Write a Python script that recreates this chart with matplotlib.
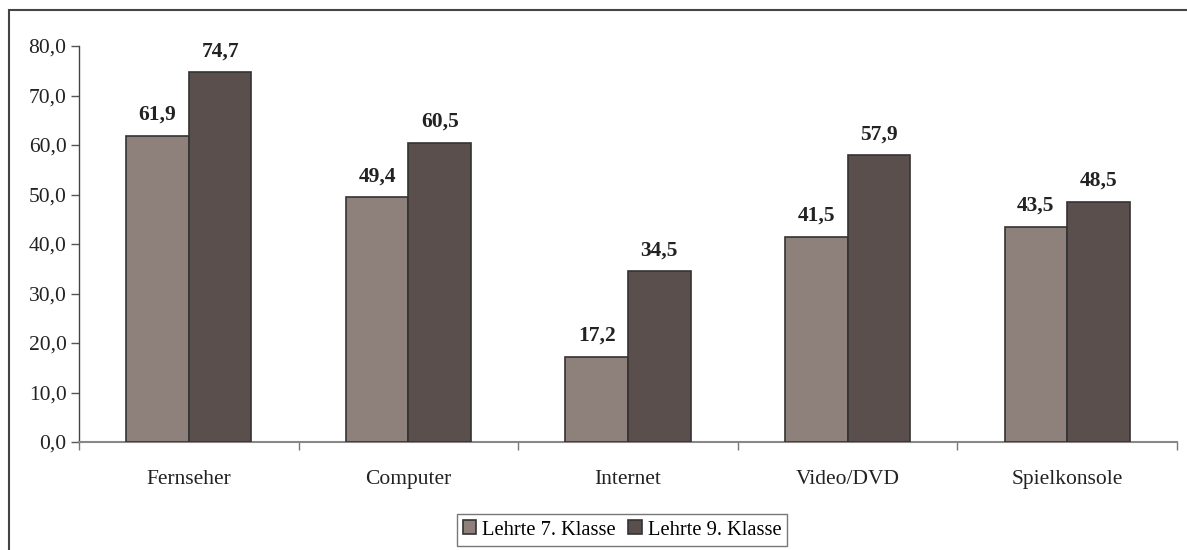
import matplotlib
matplotlib.use("Agg")
import matplotlib.pyplot as plt
import numpy as np
from matplotlib.patches import Rectangle

categories = ["Fernseher", "Computer", "Internet", "Video/DVD", "Spielkonsole"]
series_names = ["Lehrte 7. Klasse", "Lehrte 9. Klasse"]
klasse7 = [61.9, 49.4, 17.2, 41.5, 43.5]
klasse9 = [74.7, 60.5, 34.5, 57.9, 48.5]
yticks = [0, 10, 20, 30, 40, 50, 60, 70, 80]

plt.rcParams['font.family'] = ['Liberation Serif', 'DejaVu Serif']

W, H = 1187, 550
FS = 15.5
fig = plt.figure(figsize=(W / 100, H / 100), dpi=100)
ax = fig.add_axes([79 / W, 1 - 442 / H, (1177 - 79) / W, (442 - 46) / H])

# outer frame
fig.patches.append(Rectangle((9 / W, -0.05), 1.2, 1 - 10 / H + 0.05, transform=fig.transFigure,
                             fill=False, edgecolor='#444444', linewidth=1.5, zorder=0))

x = np.arange(len(categories))
bw = 0.285
colors = ['#8E817C', '#5A4F4C']
for i, (vals, name) in enumerate(zip([klasse7, klasse9], series_names)):
    pos = x + (i - 0.5) * bw
    ax.bar(pos, vals, width=bw, color=colors[i], edgecolor='#333333', linewidth=1.2,
           label=name, zorder=3)
    for xp, v in zip(pos, vals):
        ax.text(xp, v + 2.2, f"{v:.1f}".replace('.', ','), ha='center', va='bottom',
                fontsize=FS, fontweight='bold', color='#222222')

ax.set_xlim(-0.5, len(categories) - 0.5)
ax.set_ylim(0, 80)
ax.set_yticks(yticks)
ax.set_yticklabels([f"{t:.1f}".replace('.', ',') for t in yticks], fontsize=FS, color='#222222')
ax.set_xticks(x)
ax.set_xticklabels(categories, fontsize=FS, color='#222222')
ax.tick_params(axis='x', length=0, pad=20)
ax.tick_params(axis='y', length=6, width=1, color='#555555', pad=3)
# minor ticks at category boundaries
ax.set_xticks(np.arange(-0.5, len(categories)), minor=True)
ax.tick_params(axis='x', which='minor', length=6, width=1, color='#777777', direction='out')

for s in ['top', 'right']:
    ax.spines[s].set_visible(False)
ax.spines['left'].set_color('#444444')
ax.spines['bottom'].set_color('#888888')
ax.spines['left'].set_linewidth(1)
ax.spines['bottom'].set_linewidth(1.5)

leg = fig.legend(loc='center', bbox_to_anchor=(622 / W, 1 - 530 / H), ncol=2, fontsize=14.8,
                 frameon=True, fancybox=False, edgecolor='#555555', handlelength=0.65,
                 handleheight=0.65, handletextpad=0.3, columnspacing=0.6, borderpad=0.3,
                 borderaxespad=0)
leg.get_frame().set_linewidth(1)

fig.savefig("out.png", dpi=100)
